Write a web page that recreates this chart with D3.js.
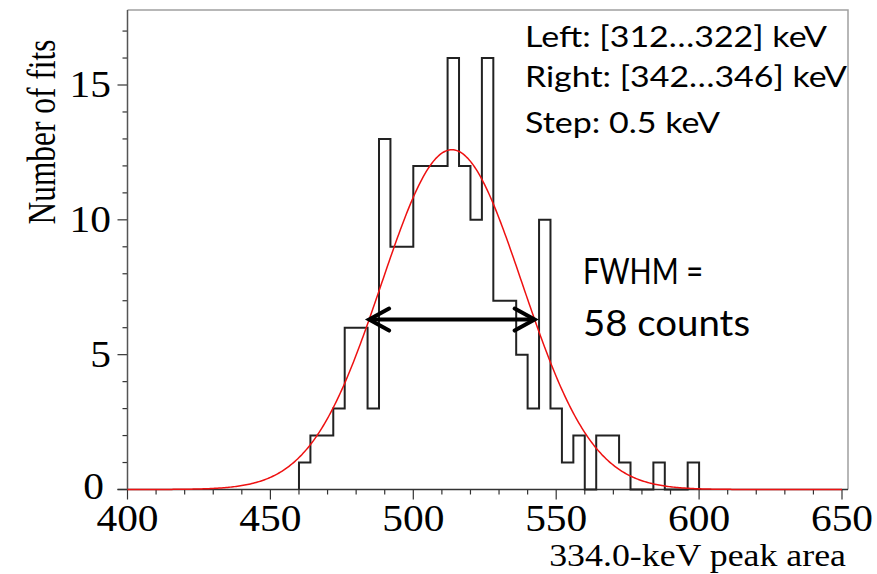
<!DOCTYPE html>
<html>
<head>
<meta charset="utf-8">
<script src="https://cdn.jsdelivr.net/npm/d3@7"></script>
<style>
body { margin: 0; background: white; }
svg { display: block; }
</style>
</head>
<body>
<div class="chart"></div>
<script>
// bin lower edges (width 4) and counts
var binEdges = [460, 464, 468, 472, 476, 480, 484, 488, 492, 496, 500, 504, 508,
    512, 516, 520, 524, 528, 532, 536, 540, 544, 548, 552, 556, 560, 564, 568,
    572, 576, 580, 584, 588, 592, 596];
var binCounts = [1, 2, 2, 3, 6, 6, 3, 13, 9, 9, 12, 12, 12,
    16, 12, 10, 16, 7, 7, 5, 3, 10, 3, 1, 2, 0, 2, 2,
    1, 0, 0, 1, 0, 0, 1];
var binWidth = 4;

// gaussian fit
var fitMean = 513.5;
var fitSigma = 24.6;
var fitAmp = 12.6;

var xTicks = [400, 450, 500, 550, 600, 650];
var yTicks = [0, 5, 10, 15];
var infoLines = ["Left: [312\u2026322] keV", "Right: [342\u2026346] keV", "Step: 0.5 keV"];
var infoWidths = [302, 322, 195];
var infoBase = [47, 87, 133];

var width = 877, height = 574;
var stretch = 1.12; // serif labels look a bit widened in the original

var svg = d3.select(".chart")
    .append("svg")
    .attr("width", width)
    .attr("height", height)

var x = d3.scaleLinear().domain([400, 650]).range([127.5, 842]);
var y = d3.scaleLinear().domain([0, 15]).range([489.5, 85]);

var xMax = x.invert(848);
var yMax = y.invert(10);

// frame (top / right)
svg.append("path")
    .attr("d", "M" + x(400) + "," + y(yMax) + "H" + x(xMax) + "V" + y(0))
    .attr("fill", "none")
    .attr("stroke", "#a0a0a0")
    .style("stroke-width", 1.5);

// x axis
var xMinor = d3.range(400, 651, 10);
svg.selectAll(".xminor")
    .data(xMinor)
    .enter().append("line")
    .attr("class", "xminor")
    .attr("x1", function(d) { return x(d); })
    .attr("x2", function(d) { return x(d); })
    .attr("y1", y(0))
    .attr("y2", function(d) { return y(0) + (d % 50 == 0 ? 10 : 5); })
    .attr("stroke", "#333")
    .style("stroke-width", 1.2);

svg.append("line")
    .attr("x1", x(400) - 10)
    .attr("x2", x(xMax))
    .attr("y1", y(0))
    .attr("y2", y(0))
    .attr("stroke", "#333")
    .style("stroke-width", 1.5);

svg.selectAll(".xlabel")
    .data(xTicks)
    .enter().append("text")
    .attr("class", "xlabel")
    .attr("transform", function(d) { return "translate(" + x(d) + ",531) scale(" + stretch + ",1)"; })
    .text(function(d) { return d; })
    .style("text-anchor", "middle")
    .style("font-family", "Liberation Serif")
    .style("font-size", "37px");

svg.append("text")
    .attr("transform", "translate(846,566) scale(" + stretch + ",1)")
    .text("334.0-keV peak area")
    .attr("textLength", 265)
    .attr("lengthAdjust", "spacingAndGlyphs")
    .style("text-anchor", "end")
    .style("font-family", "Liberation Serif")
    .style("font-size", "32px");

// y axis
var yMinor = d3.range(0, 18, 1);
svg.selectAll(".yminor")
    .data(yMinor)
    .enter().append("line")
    .attr("class", "yminor")
    .attr("x1", x(400))
    .attr("x2", function(d) { return x(400) - (d % 5 == 0 ? 10 : 5); })
    .attr("y1", function(d) { return y(d); })
    .attr("y2", function(d) { return y(d); })
    .attr("stroke", "#333")
    .style("stroke-width", 1.2);

svg.append("line")
    .attr("x1", x(400))
    .attr("x2", x(400))
    .attr("y1", y(0))
    .attr("y2", y(yMax))
    .attr("stroke", "#555")
    .style("stroke-width", 1.5);

// the "0" sits just left of the "400" label
svg.selectAll(".ylabel")
    .data(yTicks)
    .enter().append("text")
    .attr("class", "ylabel")
    .attr("transform", function(d) {
        return "translate(" + (d == 0 ? 104 : 111) + "," + (y(d) + (d == 0 ? 9 : 12)) + ") scale(" + stretch + ",1)";
    })
    .text(function(d) { return d; })
    .style("text-anchor", "end")
    .style("font-family", "Liberation Serif")
    .style("font-size", "37px");

svg.append("text")
    .attr("transform", "translate(55,132) rotate(-90) scale(1,1.12)")
    .text("Number of fits")
    .attr("textLength", 185)
    .attr("lengthAdjust", "spacingAndGlyphs")
    .style("text-anchor", "middle")
    .style("font-family", "Liberation Serif")
    .style("font-size", "35px");

// histogram
var histPts = [[binEdges[0], 0]];
binEdges.forEach(function(d, i) { histPts.push([d, binCounts[i]]); });
histPts.push([binEdges[binEdges.length - 1] + binWidth, 0]);

var histLine = d3.line()
    .x(function(d) { return x(d[0]); })
    .y(function(d) { return y(d[1]); })
    .curve(d3.curveStepAfter);

svg.append("path")
    .attr("d", histLine(histPts))
    .attr("fill", "none")
    .attr("stroke", "#222")
    .style("stroke-width", 2);

// fit curve
var fitPts = d3.range(400, 650.01, 0.5).map(function(v) {
    var z = (v - fitMean) / fitSigma;
    return [v, fitAmp * Math.exp(-0.5 * z * z)];
});

svg.append("path")
    .attr("d", d3.line()
        .x(function(d) { return x(d[0]); })
        .y(function(d) { return y(d[1]); })(fitPts))
    .attr("fill", "none")
    .attr("stroke", "#ee1111")
    .style("stroke-width", 1.5);

// FWHM arrow
var half = fitSigma * Math.sqrt(2 * Math.log(2));
var ax1 = x(fitMean - half), ax2 = x(fitMean + half), ay = y(fitAmp / 2);
svg.append("line")
    .attr("x1", ax1 + 2)
    .attr("x2", ax2 - 2)
    .attr("y1", ay)
    .attr("y2", ay)
    .attr("stroke", "black")
    .style("stroke-width", 4);
svg.append("path")
    .attr("d", "M" + (ax1 + 20) + "," + (ay - 11) + "L" + ax1 + "," + ay + "L" + (ax1 + 20) + "," + (ay + 11)
        + "M" + (ax2 - 20) + "," + (ay - 11) + "L" + ax2 + "," + ay + "L" + (ax2 - 20) + "," + (ay + 11))
    .attr("fill", "none")
    .attr("stroke", "black")
    .attr("stroke-linecap", "round")
    .style("stroke-width", 4);

// annotations
svg.selectAll(".info")
    .data(infoLines)
    .enter().append("text")
    .attr("class", "info")
    .attr("x", 525)
    .attr("y", function(d, i) { return infoBase[i]; })
    .text(function(d) { return d; })
    .attr("textLength", function(d, i) { return infoWidths[i]; })
    .attr("lengthAdjust", "spacingAndGlyphs")
    .style("font-family", "Lato")
    .style("font-size", "29px");

svg.append("text")
    .attr("x", 583)
    .attr("y", 284)
    .text("FWHM =")
    .attr("textLength", 120)
    .attr("lengthAdjust", "spacingAndGlyphs")
    .style("font-family", "Lato")
    .style("font-size", "36px");

svg.append("text")
    .attr("x", 583)
    .attr("y", 336)
    .text("58 counts")
    .attr("textLength", 167)
    .attr("lengthAdjust", "spacingAndGlyphs")
    .style("font-family", "Lato")
    .style("font-size", "36px");
</script>
</body>
</html>
